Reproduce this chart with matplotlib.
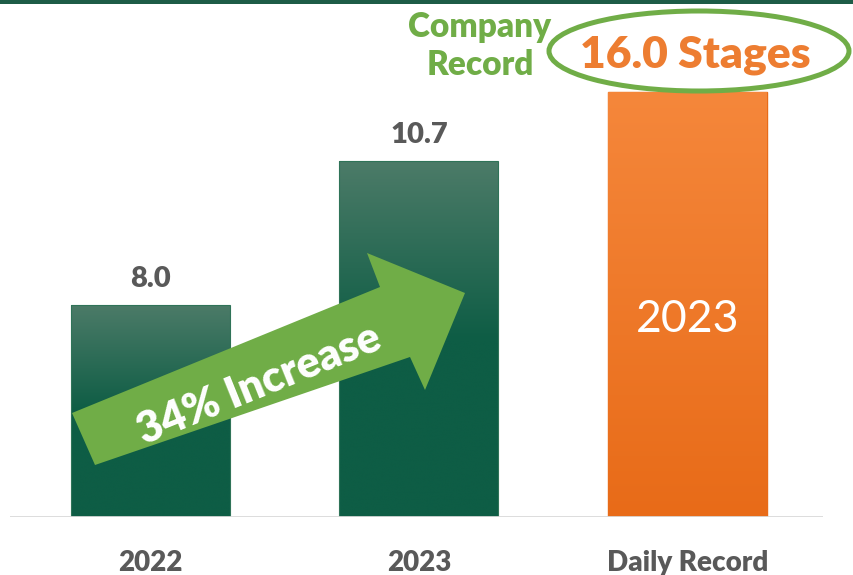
"""Bar chart: stages per day, 2022 vs 2023 vs daily record."""

import matplotlib

matplotlib.use("Agg")

import numpy as np
from matplotlib import pyplot as plt
from matplotlib.colors import LinearSegmentedColormap
from matplotlib.patches import Ellipse, Polygon, Rectangle
from matplotlib.transforms import Affine2D

categories = ["2022", "2023", "Daily Record"]
bar_heights = [8.0, 13.4, 16.0]
value_labels = ["8.0", "10.7"]
record_label = "16.0 Stages"
record_year = "2023"
increase_label = "34% Increase"
record_title = "Company\nRecord"

GREEN_TOP = "#4c7b68"
GREEN_BOTTOM = "#0e5d45"
ORANGE_TOP = "#f5873b"
ORANGE_BOTTOM = "#e86b18"
ACCENT = "#70ad47"
LABEL_GRAY = "#595959"
HEAVY = "heavy"

plt.rcParams["font.family"] = ["Lato", "DejaVu Sans"]

W, H = 854, 575
fig = plt.figure(figsize=(W / 100, H / 100), dpi=100)
ax = fig.add_axes([10 / W, 58 / H, 813 / W, 517 / H])

# pixel coordinates (origin top-left) for the decorations
px = Affine2D().scale(1 / W, -1 / H).translate(0, 1) + fig.transFigure

x = np.arange(len(categories))
bars = ax.bar(x, bar_heights, width=0.592, color=GREEN_BOTTOM, zorder=2)
bars[2].set_color(ORANGE_BOTTOM)

green_cmap = LinearSegmentedColormap.from_list("g", [GREEN_BOTTOM, GREEN_BOTTOM, GREEN_TOP])
orange_cmap = LinearSegmentedColormap.from_list("o", [ORANGE_BOTTOM, ORANGE_TOP])
grad = np.linspace(0, 1, 256).reshape(-1, 1)
for i, bar in enumerate(bars):
    cmap = orange_cmap if i == 2 else green_cmap
    x0, w, h = bar.get_x(), bar.get_width(), bar.get_height()
    im = ax.imshow(grad, cmap=cmap, origin="lower", aspect="auto",
                   extent=(x0, x0 + w, 0, h), zorder=3, interpolation="bicubic")
    im.set_clip_path(bar)
    if i < 2:
        ax.add_patch(Rectangle((x0, 0), w, h, fill=False, edgecolor="#2f7358",
                               linewidth=0.8, zorder=4))

ax.set_xlim(-0.523, 2.505)
ax.set_ylim(0, 517 / 26.56)
ax.axhline(0, color="#d9d9d9", linewidth=2, zorder=5)
for spine in ax.spines.values():
    spine.set_visible(False)
ax.set_yticks([])
ax.set_xticks(x, categories)
ax.tick_params(axis="x", length=0, pad=24)
for lab in ax.get_xticklabels():
    lab.set_fontsize(20)
    lab.set_fontweight(HEAVY)
    lab.set_color(LABEL_GRAY)

for i, text in enumerate(value_labels):
    ax.annotate(text, (x[i], bar_heights[i]), xytext=(0, 26), textcoords="offset pixels",
                ha="center", va="center", fontsize=21, fontweight=HEAVY, color=LABEL_GRAY)

ax.text(x[2], bar_heights[2] * 0.465, record_year, ha="center", va="center",
        fontsize=32, color="white", zorder=6)

# record callout
fig.patches.append(Ellipse((699, 51), 300, 80, transform=px, fill=False,
                           edgecolor=ACCENT, linewidth=3.6, zorder=7))
fig.text(695, 55, record_label, transform=px, ha="center", va="center",
         fontsize=32, fontweight=HEAVY, color="#ed7d31")
fig.text(480, 46, record_title, transform=px, ha="center", va="center",
         fontsize=24, fontweight=HEAVY, color=ACCENT, linespacing=1.2)

# increase arrow
arrow = [(72, 413), (380, 287), (367, 253), (465, 293), (425, 390), (410, 357), (95, 465)]
fig.patches.append(Polygon(arrow, closed=True, transform=px, facecolor=ACCENT,
                           edgecolor="none", zorder=8))
fig.text(259, 384, increase_label, transform=px, ha="center", va="center",
         rotation=22, rotation_mode="anchor", fontsize=31, fontweight=HEAVY,
         color="white", zorder=9)

# top band
fig.patches.append(Rectangle((0, 1 - 4 / H), 1, 4 / H, transform=fig.transFigure,
                             facecolor="#1d5c47", edgecolor="none"))

fig.savefig("out.png", dpi=100)
